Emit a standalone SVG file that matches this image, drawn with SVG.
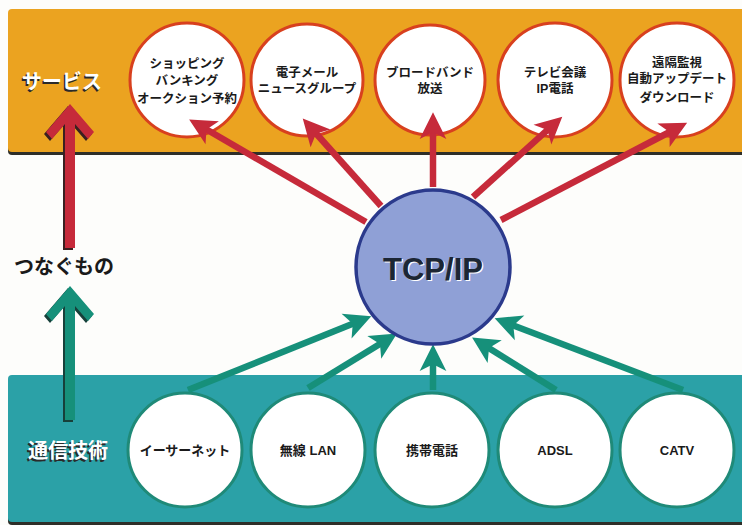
<svg xmlns="http://www.w3.org/2000/svg" width="742" height="525" viewBox="0 0 742 525">
<defs>
<style>
.band-top{fill:#eba320}
.band-bot{fill:#2ba1a7}
.shadow{fill:#2e2e28}
.svc{fill:#ffffff;stroke:#d8401e;stroke-width:3}
.tech{fill:#ffffff;stroke:#1f8a78;stroke-width:3}
.hub{fill:#8fa0d6;stroke:#2b3a8c;stroke-width:3.5}
.t{font-family:"Liberation Sans","Noto Sans CJK JP",sans-serif;font-weight:700;text-anchor:middle;fill:#1a1a1a}
.s{font-size:12.5px}
.b{font-size:13px}
.lbl{font-family:"Liberation Sans","Noto Sans CJK JP",sans-serif;font-weight:700;font-size:20px}
.red{stroke:#c62a3a;stroke-width:6.5;fill:none;marker-end:url(#ar)}
.grn{stroke:#16907a;stroke-width:6.5;fill:none;marker-end:url(#ag)}
</style>
<marker id="ar" markerUnits="userSpaceOnUse" orient="auto" refX="0" refY="0" markerWidth="40" markerHeight="40" viewBox="-10 -15 30 30" overflow="visible">
<path d="M14,0 L-6,-10 L-1,0 L-6,10 Z" fill="#c62a3a"/>
</marker>
<marker id="ag" markerUnits="userSpaceOnUse" orient="auto" refX="0" refY="0" markerWidth="40" markerHeight="40" viewBox="-10 -15 30 30" overflow="visible">
<path d="M14,0 L-6,-10 L-1,0 L-6,10 Z" fill="#16907a"/>
</marker>
</defs>
<rect width="742" height="525" fill="#fdfdfb"/>

<g id="band-services">
<rect class="shadow" x="8" y="12" width="740" height="143" rx="4"/>
<rect class="band-top" x="8" y="9" width="740" height="143" rx="4"/>
</g>
<g id="band-tech">
<rect class="shadow" x="8" y="378" width="740" height="147" rx="4"/>
<rect class="band-bot" x="8" y="375" width="740" height="147" rx="4"/>
</g>

<g id="label-services">
<text class="lbl" x="62" y="89" text-anchor="middle" fill="#2a2a2a" transform="translate(-1.5,1.5)">サービス</text>
<text class="lbl" x="62" y="89" text-anchor="middle" fill="#ffffff">サービス</text>
</g>
<g id="label-connect">
<text class="lbl" x="64" y="274" text-anchor="middle" fill="#1a1a1a">つなぐもの</text>
</g>
<g id="label-tech">
<text class="lbl" x="68" y="458" text-anchor="middle" fill="#2a2a2a" font-size="21" transform="translate(-1.5,1.5)">通信技術</text>
<text class="lbl" x="68" y="458" text-anchor="middle" fill="#ffffff" font-size="21">通信技術</text>
</g>

<g id="arrow-up-red">
<polygon transform="translate(-2,2)" fill="#3a2020" points="70,104 94,132 88,139 75,124 75,248 65,248 65,124 52,139 46,132"/>
<polygon fill="#c62a3a" points="70,104 94,132 88,139 75,124 75,248 65,248 65,124 52,139 46,132"/>
</g>
<g id="arrow-up-green">
<polygon transform="translate(-2,2)" fill="#17403a" points="70,286 94,314 88,321 75,306 75,420 65,420 65,306 52,321 46,314"/>
<polygon fill="#16907a" points="70,286 94,314 88,321 75,306 75,420 65,420 65,306 52,321 46,314"/>
</g>

<g id="svc1"><circle class="svc" cx="187" cy="80" r="57"/>
<text class="t s" x="187" y="68">ショッピング</text>
<text class="t s" x="187" y="85">バンキング</text>
<text class="t s" x="187" y="103">オークション予約</text></g>
<g id="svc2"><circle class="svc" cx="307" cy="80" r="56"/>
<text class="t s" x="307" y="77">電子メール</text>
<text class="t s" x="307" y="93">ニュースグループ</text></g>
<g id="svc3"><circle class="svc" cx="430" cy="80" r="55"/>
<text class="t s" x="430" y="77">ブロードバンド</text>
<text class="t s" x="430" y="93">放送</text></g>
<g id="svc4"><circle class="svc" cx="555" cy="80" r="57"/>
<text class="t s" x="555" y="77">テレビ会議</text>
<text class="t s" x="555" y="93">IP電話</text></g>
<g id="svc5"><circle class="svc" cx="677" cy="80" r="57"/>
<text class="t s" x="677" y="67">遠隔監視</text>
<text class="t s" x="677" y="83">自動アップデート</text>
<text class="t s" x="677" y="102">ダウンロード</text></g>

<g id="tech1"><circle class="tech" cx="185" cy="450" r="57"/>
<text class="t b" x="185" y="455">イーサーネット</text></g>
<g id="tech2"><circle class="tech" cx="308" cy="450" r="57"/>
<text class="t b" x="308" y="455">無線 LAN</text></g>
<g id="tech3"><circle class="tech" cx="432" cy="450" r="57"/>
<text class="t b" x="432" y="455">携帯電話</text></g>
<g id="tech4"><circle class="tech" cx="555" cy="450" r="57"/>
<text class="t b" x="555" y="455">ADSL</text></g>
<g id="tech5"><circle class="tech" cx="677" cy="450" r="57"/>
<text class="t b" x="677" y="455">CATV</text></g>

<g id="connectors">
<line class="red" x1="366" y1="222" x2="205.3" y2="128.8"/>
<line class="red" x1="381" y1="206" x2="315.2" y2="132.5"/>
<line class="red" x1="433" y1="187" x2="433" y2="131"/>
<line class="red" x1="473" y1="197" x2="548.4" y2="129.2"/>
<line class="red" x1="501" y1="220" x2="670.6" y2="131.5"/>
<line class="grn" x1="188" y1="390" x2="354" y2="323.2"/>
<line class="grn" x1="308" y1="388" x2="381.1" y2="343.3"/>
<line class="grn" x1="433" y1="390" x2="433" y2="363"/>
<line class="grn" x1="556" y1="390" x2="487.9" y2="347.4"/>
<line class="grn" x1="683" y1="390" x2="512.1" y2="325"/>
</g>

<g id="hub">
<circle class="hub" cx="433" cy="267" r="77"/>
<text x="433" y="280" text-anchor="middle" font-family="Liberation Sans, sans-serif" font-weight="700" font-size="31" fill="#ffffff" transform="translate(1.2,1.2)">TCP/IP</text>
<text x="433" y="280" text-anchor="middle" font-family="Liberation Sans, sans-serif" font-weight="700" font-size="31" fill="#1c2634">TCP/IP</text>
</g>
</svg>
